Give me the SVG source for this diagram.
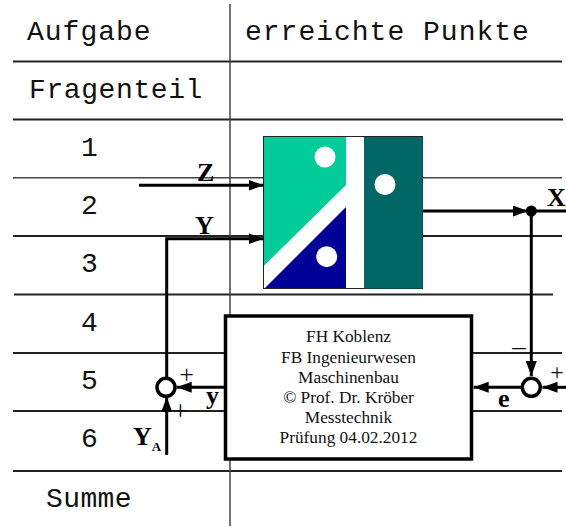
<svg xmlns="http://www.w3.org/2000/svg" width="566" height="527" viewBox="0 0 566 527">
<style>
.g{stroke:#222;fill:none}
.w{stroke:#000;stroke-width:3;fill:none}
.m{font-family:"Liberation Mono",monospace;font-size:28px;letter-spacing:1px;fill:#111}
.b{font-family:"Liberation Serif",serif;font-weight:bold;font-size:26px;fill:#000}
.t{font-family:"Liberation Serif",serif;font-size:17.300px;fill:#111;text-anchor:middle}
.p{font-family:"Liberation Serif",serif;font-size:24px;fill:#111;text-anchor:middle}
</style>
<defs><marker id="a" markerUnits="userSpaceOnUse" markerWidth="16" markerHeight="12" refX="15" refY="5.500" orient="auto"><path d="M0 0L15 5.500L0 11z" fill="#000"/></marker></defs>
<rect width="566" height="527" fill="#fff"/>
<g id="table">
<path class="g" stroke-width="2" d="M13 61.500H562M13 119.500H563M13 236H562M14 294.500H553M13 353H562M13 411H562M13 471H562"/>
<path stroke="#444" stroke-width="1.500" fill="none" d="M13 177.700H562"/>
<path stroke="#444" stroke-width="1.500" fill="none" d="M230 4V526"/>
<text class="m" x="27" y="40">Aufgabe</text>
<text class="m" x="245" y="40">erreichte Punkte</text>
<text class="m" x="29" y="98" style="letter-spacing:.6px">Fragenteil</text>
<text class="m" x="81" y="156">1</text>
<text class="m" x="81" y="214">2</text>
<text class="m" x="81" y="272">3</text>
<text class="m" x="81" y="331">4</text>
<text class="m" x="81" y="389">5</text>
<text class="m" x="81" y="447">6</text>
<text class="m" x="46" y="507" style="letter-spacing:.4px">Summe</text>
</g>
<g id="logo">
<rect x="263.500" y="136.500" width="159" height="152" fill="#fff" stroke="#222"/>
<path d="M264 137H346V185L264 265.700z" fill="#00cc99"/>
<rect x="364" y="137" width="58.500" height="151.500" fill="#006666"/>
<path d="M346 207V288H265z" fill="#000099"/>
<circle cx="325" cy="157" r="10.500" fill="#fff"/>
<circle cx="385" cy="184.500" r="10.500" fill="#fff"/>
<circle cx="326.700" cy="256.700" r="10.500" fill="#fff"/>
</g>
<g id="connectors">
<path class="w" marker-end="url(#a)" d="M139 185.300H263.500"/>
<path class="w" marker-end="url(#a)" d="M166.700 378V238.700H263.500"/>
<path class="w" marker-end="url(#a)" d="M423 211H528"/>
<path class="w" d="M528 211H566"/>
<path class="w" marker-end="url(#a)" d="M531.300 211V376"/>
<path class="w" marker-end="url(#a)" d="M566 387.300H542.500"/>
<path class="w" marker-end="url(#a)" d="M521 387.300H473.700"/>
<path class="w" marker-end="url(#a)" d="M224 387.300H176.700"/>
<path class="w" marker-end="url(#a)" d="M166.700 455V397"/>
<circle cx="531.300" cy="211" r="5.500" fill="#000"/>
<circle cx="531.300" cy="387.300" r="9" fill="#fff" stroke="#000" stroke-width="3.500"/>
<circle cx="166" cy="387.300" r="9" fill="#fff" stroke="#000" stroke-width="3.500"/>
<text class="p" x="186.500" y="383" style="font-size:26px">+</text>
<text class="p" x="180.500" y="420" style="font-size:28px">+</text>
<text class="p" x="557" y="380">+</text>
<text class="p" x="519" y="355" style="font-size:27px">–</text>
</g>
<g id="labels">
<text class="b" x="197" y="181">Z</text>
<text class="b" x="195" y="234">Y</text>
<text class="b" x="547" y="206">X</text>
<text class="b" x="206" y="404">y</text>
<text class="b" x="498" y="407">e</text>
<text class="b" x="133" y="445">Y<tspan font-size="13" dy="6">A</tspan></text>
</g>
<g id="box">
<rect x="225.500" y="316" width="246" height="143" fill="#fff" stroke="#000" stroke-width="3.500"/>
<text class="t" x="348.500" y="342">FH Koblenz</text>
<text class="t" x="348.500" y="363">FB Ingenieurwesen</text>
<text class="t" x="348.500" y="383">Maschinenbau</text>
<text class="t" x="348.500" y="403">© Prof. Dr. Kröber</text>
<text class="t" x="348.500" y="423">Messtechnik</text>
<text class="t" x="348.500" y="443">Prüfung 04.02.2012</text>
</g>
</svg>
